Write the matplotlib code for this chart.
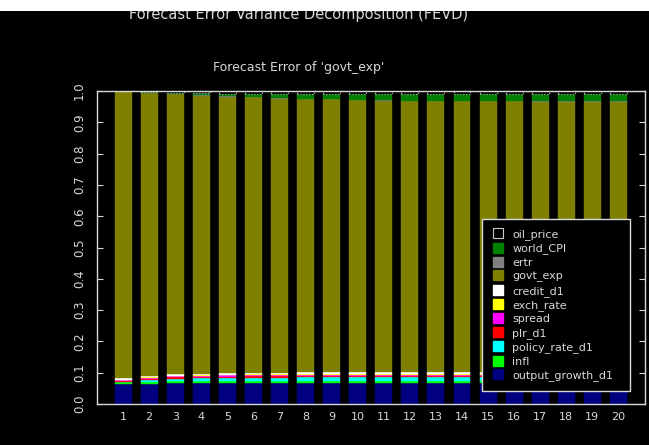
import matplotlib
matplotlib.use("Agg")
import matplotlib.pyplot as plt
from matplotlib.patches import Rectangle
import numpy as np

periods = np.arange(1, 21)

# shares of the forecast error variance of govt_exp, stacked bottom to top
output_growth_d1 = [0.064, 0.064, 0.068, 0.068, 0.068, 0.068, 0.068, 0.068, 0.068, 0.068,
                    0.068, 0.068, 0.068, 0.068, 0.068, 0.068, 0.068, 0.068, 0.068, 0.068]
infl = [0.006, 0.006, 0.005, 0.005, 0.004, 0.004, 0.004, 0.004, 0.004, 0.004,
        0.004, 0.004, 0.004, 0.004, 0.004, 0.004, 0.004, 0.004, 0.004, 0.004]
policy_rate_d1 = [0.000, 0.006, 0.008, 0.010, 0.011, 0.012, 0.012, 0.013, 0.013, 0.013,
                  0.013, 0.013, 0.013, 0.013, 0.013, 0.013, 0.013, 0.013, 0.013, 0.013]
plr_d1 = [0.004, 0.004, 0.004, 0.004, 0.004, 0.004, 0.004, 0.004, 0.004, 0.004,
          0.004, 0.004, 0.004, 0.004, 0.004, 0.004, 0.004, 0.004, 0.004, 0.004]
spread = [0.003, 0.004, 0.004, 0.004, 0.005, 0.005, 0.005, 0.005, 0.005, 0.005,
          0.005, 0.005, 0.005, 0.005, 0.005, 0.005, 0.005, 0.005, 0.005, 0.005]
exch_rate = [0.001, 0.003, 0.002, 0.002, 0.002, 0.002, 0.003, 0.003, 0.003, 0.003,
             0.003, 0.003, 0.003, 0.003, 0.003, 0.003, 0.003, 0.003, 0.003, 0.003]
credit_d1 = [0.005, 0.004, 0.004, 0.004, 0.004, 0.004, 0.004, 0.004, 0.004, 0.004,
             0.004, 0.004, 0.004, 0.004, 0.004, 0.004, 0.004, 0.004, 0.004, 0.004]
ertr = [0.000, 0.000, 0.000, 0.001, 0.001, 0.001, 0.001, 0.002, 0.001, 0.001,
        0.001, 0.001, 0.002, 0.001, 0.001, 0.001, 0.001, 0.001, 0.001, 0.001]
world_CPI = [0.000, 0.004, 0.003, 0.007, 0.009, 0.011, 0.014, 0.015, 0.017, 0.019,
             0.020, 0.021, 0.021, 0.022, 0.022, 0.022, 0.023, 0.023, 0.023, 0.023]
oil_price = [0.000, 0.002, 0.006, 0.007, 0.008, 0.008, 0.009, 0.009, 0.009, 0.010,
             0.010, 0.010, 0.010, 0.010, 0.010, 0.010, 0.010, 0.010, 0.010, 0.010]

lower = [output_growth_d1, infl, policy_rate_d1, plr_d1, spread, exch_rate, credit_d1]
upper = [ertr, world_CPI, oil_price]
govt_exp = list(1 - np.sum(lower, axis=0) - np.sum(upper, axis=0))

series = [
    ("output_growth_d1", output_growth_d1, "#000080"),
    ("infl", infl, "#00ff00"),
    ("policy_rate_d1", policy_rate_d1, "#00ffff"),
    ("plr_d1", plr_d1, "#ff0000"),
    ("spread", spread, "#ff00ff"),
    ("exch_rate", exch_rate, "#ffff00"),
    ("credit_d1", credit_d1, "#ffffff"),
    ("govt_exp", govt_exp, "#808000"),
    ("ertr", ertr, "#808080"),
    ("world_CPI", world_CPI, "#008000"),
    ("oil_price", oil_price, "#000000"),
]

fg = "#d8d8d8"
fig = plt.figure(figsize=(6.49, 4.45), dpi=100, facecolor="black")
ax = fig.add_axes([97 / 649, 1 - 404 / 445, 548 / 649, 313 / 445], facecolor="black")

bottom = np.zeros(len(periods))
for name, vals, col in series:
    if name == "oil_price":
        ax.bar(periods, vals, 0.65, bottom=bottom, color=col, edgecolor="#c8c8c8",
               linestyle=":", linewidth=0.8, label=name)
    else:
        ax.bar(periods, vals, 0.65, bottom=bottom, color=col, edgecolor=col,
               linewidth=0.3, label=name)
    bottom += np.array(vals)

ax.set_xlim(0, 21.02)
ax.set_ylim(0, 1.0)
ax.set_xticks(periods)
ax.set_yticks(np.arange(0, 1.01, 0.1))
ax.set_yticklabels([f"{v:.1f}" for v in np.arange(0, 1.01, 0.1)], rotation=90, va="center")
ax.tick_params(axis="x", length=0, colors=fg, labelsize=8, pad=6)
ax.tick_params(axis="y", direction="in", length=4, colors=fg, labelsize=8.5, pad=8,
               right=True)
for s in ax.spines.values():
    s.set_color(fg)
    s.set_linewidth(1)

leg_handles = []
for name, vals, col in series[::-1]:
    if name == "oil_price":
        h = plt.Line2D([], [], marker="s", linestyle="", markersize=7,
                       markerfacecolor="black", markeredgecolor="#c8c8c8", markeredgewidth=0.8)
    else:
        h = plt.Line2D([], [], marker="s", linestyle="", markersize=7,
                       markerfacecolor=col, markeredgecolor=col)
    leg_handles.append(h)
leg = ax.legend(leg_handles, [s[0] for s in series[::-1]], loc="lower left",
                bbox_to_anchor=(0.703, 0.042, 0.27, 0.562), mode="expand",
                facecolor="black", edgecolor=fg, framealpha=1, fancybox=False,
                labelcolor=fg, fontsize=8, handlelength=1.0, handletextpad=0.8,
                labelspacing=0.31, borderaxespad=0, borderpad=0.9)
leg.get_frame().set_linewidth(1)

fig.text(0.46, 1 - 68 / 445, "Forecast Error of 'govt_exp'", color=fg, fontsize=9,
         ha="center", va="center")
fig.text(0.46, 1 - 14 / 445, "Forecast Error Variance Decomposition (FEVD)", color=fg,
         fontsize=10.5, ha="center", va="center")
fig.patches.append(Rectangle((0, 1 - 11 / 445), 1, 11 / 445, transform=fig.transFigure,
                             facecolor="white", edgecolor="none", zorder=10))

fig.savefig("out.png", dpi=100, facecolor="black")
